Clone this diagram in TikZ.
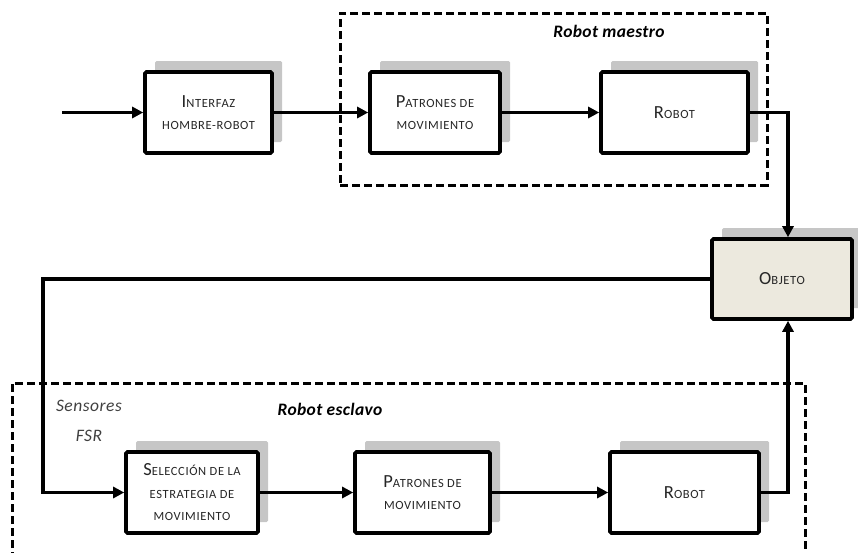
\documentclass[tikz,border=0pt]{standalone}
\usepackage{fontspec}
\setmainfont{Carlito}
\usetikzlibrary{arrows.meta,shadows}
\definecolor{objfill}{RGB}{236,233,222}
\newcommand\Bg[1]{{\fontsize{18.5}{22.5}\selectfont #1}}
\begin{document}
\begin{tikzpicture}[x=1pt,y=-1pt,
  blk/.style={draw, line width=3.6pt, rounded corners=1.5pt, fill=white,
    minimum height=81pt, align=center, inner sep=0pt, text=black!85,
    font=\fontsize{12.5}{22.5}\selectfont\addfontfeatures{LetterSpace=5},
    drop shadow={shadow xshift=10pt, shadow yshift=11pt, fill=gray!45, opacity=1}},
  conn/.style={line width=3.2pt, -{Triangle[length=11pt,width=11pt]}},
  dashbox/.style={draw, line width=3pt, dash pattern=on 8pt off 4pt},
  lbl/.style={font=\fontsize{17.5}{20}\selectfont\bfseries\itshape\addfontfeatures{LetterSpace=2}}]
\useasboundingbox (0,0) rectangle (858,552);
% group frames
\node[dashbox, minimum width=427pt, minimum height=172pt, inner sep=0pt] (maestro) at (553.5,99) {};
\draw[dashbox] (12,560) -- (12,383) -- (805,383) -- (805,560);
\node[lbl] (lm) at (609,31) {Robot maestro};
\node[lbl] (le) at (330,409) {Robot esclavo};
\node[font=\fontsize{17.5}{30}\selectfont\itshape\addfontfeatures{LetterSpace=3}, text=black!75, align=center] (fsr) at (89,421) {Sensores\\FSR};
% blocks
\node[blk, minimum width=127pt] (inter) at (208.5,112.5) {\Bg{I}NTERFAZ\\HOMBRE-ROBOT};
\node[blk, minimum width=130pt] (pat1) at (435,112.5) {\Bg{P}ATRONES DE\\MOVIMIENTO};
\node[blk, minimum width=147pt] (rob1) at (674.5,112.5) {\Bg{R}OBOT};
\node[blk, minimum width=140pt, minimum height=80pt, fill=objfill] (obj) at (782,279) {\Bg{O}BJETO};
\node[blk, minimum width=132pt] (sel) at (192,492.5) {\Bg{S}ELECCIÓN DE LA\\ESTRATEGIA DE\\MOVIMIENTO};
\node[blk, minimum width=135pt] (pat2) at (422.5,492.5) {\Bg{P}ATRONES DE\\MOVIMIENTO};
\node[blk, minimum width=149pt] (rob2) at (684.5,492.5) {\Bg{R}OBOT};
% connectors
\coordinate (in) at (62,112.5);
\coordinate (turn) at (43,492.5);
\draw[conn] (in) -- (inter);
\draw[conn] (inter) -- (pat1);
\draw[conn] (pat1) -- (rob1);
\draw[conn] (rob1.east) -| ([xshift=6pt]obj.north);
\draw[conn] (obj.west) -| (turn) -- (sel.west);
\draw[conn] (sel) -- (pat2);
\draw[conn] (pat2) -- (rob2);
\draw[conn] (rob2.east) -| ([xshift=6pt]obj.south);
\end{tikzpicture}
\end{document}
